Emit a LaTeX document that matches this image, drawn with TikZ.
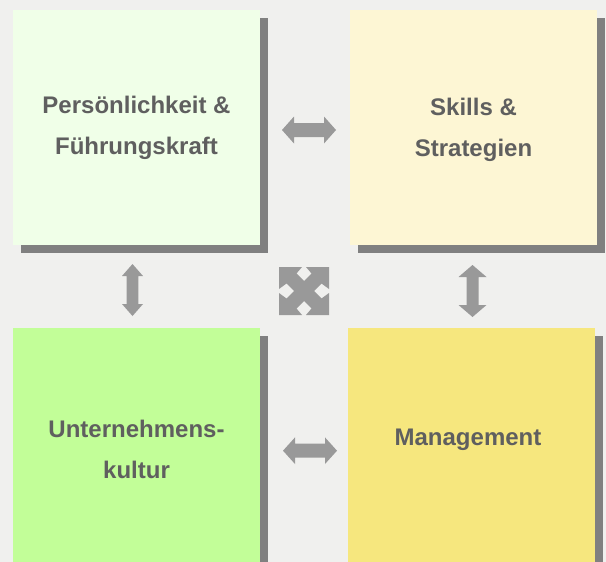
\documentclass[tikz,border=0pt]{standalone}
\usepackage{fontspec}
\setmainfont{Liberation Sans}
\usetikzlibrary{shadows}
\definecolor{bgc}{HTML}{F0F0EE}
\definecolor{boxA}{HTML}{F0FFE8}
\definecolor{boxB}{HTML}{FDF6D4}
\definecolor{boxC}{HTML}{C2FE98}
\definecolor{boxD}{HTML}{F6E77E}
\definecolor{shadowc}{HTML}{808080}
\definecolor{arrowc}{HTML}{999999}
\definecolor{txtc}{HTML}{5F5F5F}
\newcommand\hdarr[5]{%
  \fill[arrowfill,shift={(#1,#2)}] (-#3,0) -- (-#3+12,-#4) -- (-#3+12,-#5) -- (#3-12,-#5) -- (#3-12,-#4) -- (#3,0) -- (#3-12,#4) -- (#3-12,#5) -- (-#3+12,#5) -- (-#3+12,#4) -- cycle;}
\newcommand\vdarr[5]{%
  \fill[arrowfill,shift={(#1,#2)}] (0,-#3) -- (-#4,-#3+12) -- (-#5,-#3+12) -- (-#5,#3-12) -- (-#4,#3-12) -- (0,#3) -- (#4,#3-12) -- (#5,#3-12) -- (#5,-#3+12) -- (#4,-#3+12) -- cycle;}
\begin{document}
\begin{tikzpicture}[x=1pt,y=-1pt,
  box/.style={draw=none,inner sep=0pt,minimum width=247pt,minimum height=235pt,
    drop shadow={shadow xshift=8pt,shadow yshift=-8pt,fill=shadowc,opacity=1}},
  lbl/.style={align=center,text=txtc,font=\fontsize{24}{41}\selectfont\bfseries},
  arrowfill/.style={fill=arrowc}]
\fill[bgc] (0,0) rectangle (606,562);
\useasboundingbox (0,0) rectangle (606,562);
\clip (0,0) rectangle (606,562);
% boxes
\node[box,fill=boxA] (b1) at (136.5,127.5) {};
\node[box,fill=boxB] (b2) at (473.5,127.5) {};
\node[box,fill=boxC,minimum height=242pt] (b3) at (136.5,449) {};
\node[box,fill=boxD,minimum height=242pt] (b4) at (471.5,449) {};
% labels
\node[lbl] (t1) at (136.5,127.5) {Persönlichkeit \&\\Führungskraft};
\node[lbl] (t2) at (473.5,129.5) {Skills \&\\Strategien};
\node[lbl] (t3) at (136.5,449.5) {Unternehmens-\\kultur};
\node[lbl] (t4) at (468,440) {Management};
% arrows
\hdarr{309}{130}{27}{13.5}{7}
\hdarr{310}{450.7}{27}{13.3}{7}
\vdarr{132.5}{290}{26}{10.5}{5.8}
\vdarr{472.5}{291}{26}{14}{6}
% cross
\fill[arrowfill,shift={(304,291)}]
  (-25,-24) -- (-2,-24) -- (-7.5,-17.5) -- (0,-10) -- (7.5,-17.5) -- (2,-24) --
  (25,-24) -- (25,-2) -- (17.5,-7.5) -- (10,0) -- (17.5,7.5) -- (25,2) --
  (25,24) -- (2,24) -- (7.5,17.5) -- (0,10) -- (-7.5,17.5) -- (-2,24) --
  (-25,24) -- (-25,2) -- (-17.5,7.5) -- (-10,0) -- (-17.5,-7.5) -- (-25,-2) -- cycle;
\end{tikzpicture}
\end{document}
